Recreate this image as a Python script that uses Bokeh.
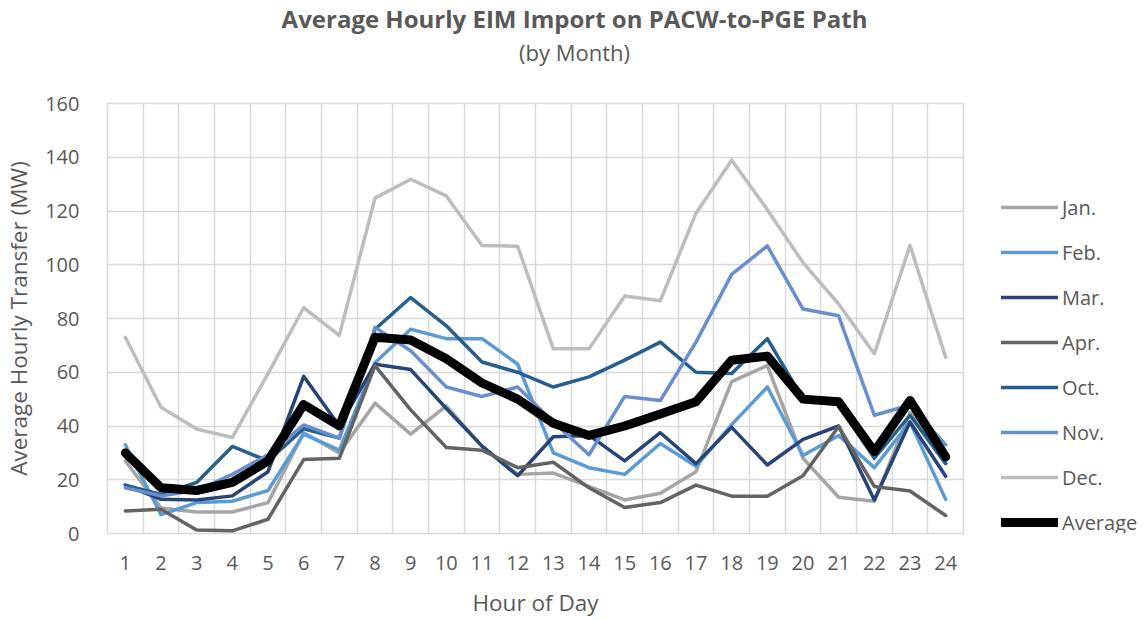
from bokeh.plotting import figure
from bokeh.models import Range1d, FixedTicker, Legend, LegendItem, Label
from bokeh.layouts import column, row
from bokeh.embed import file_html
from bokeh.resources import INLINE

hours = list(range(1, 25))
hour_labels = [str(h) for h in hours]

jan = [27, 9.5, 8, 8, 11.5, 37.5, 30, 48.5, 37, 47.5, 32.5, 22, 22.5, 17.5, 12.5, 15, 23, 56.5, 62.5, 28, 13.5, 12, 45, 29]
feb = [33, 7, 11.5, 12, 16, 37, 31, 63.5, 76, 72.5, 72.5, 63, 30, 24.5, 22, 33.5, 25, 40.5, 54.5, 29, 36.5, 24.5, 41.5, 12.7]
mar = [18, 12.7, 12.5, 14, 23, 58.5, 40, 63, 61, 46.5, 32.5, 21.5, 36, 36.5, 27, 37.5, 26, 39.5, 25.5, 35, 40, 12.5, 41.5, 21.3]
apr = [8.4, 9, 1.3, 1, 5.3, 27.5, 28, 62.5, 46, 32, 31, 24.5, 26.5, 17, 9.7, 11.5, 18, 13.9, 13.9, 21.5, 39.8, 17.5, 15.8, 6.7]
oct_ = [18, 14.5, 19, 32.4, 27, 39, 35.5, 76, 87.8, 77.3, 63.8, 60, 54.5, 58.3, 64.5, 71.2, 60, 59.5, 72.5, 50, 48, 28, 44, 26]
nov = [17, 14, 16, 22, 29.3, 40.4, 35.5, 76.7, 68, 54.5, 51, 54.5, 41.5, 29.3, 51, 49.5, 71.2, 96.4, 107, 83.5, 81, 44, 47.8, 33]
dec = [73, 47, 38.9, 35.7, 59.5, 84, 73.7, 124.8, 131.8, 125.6, 107.2, 106.9, 68.7, 68.7, 88.4, 86.6, 119.2, 138.9, 120.5, 100.8, 85.4, 66.9, 107.2, 65.6]
avg = [30, 17, 16, 19, 27, 48, 40, 73, 72, 65, 56, 50, 41, 36.5, 40, 44.5, 49, 64.5, 66, 50, 49, 30.5, 49.5, 28.5]

series_names = ["Jan.", "Feb.", "Mar.", "Apr.", "Oct.", "Nov.", "Dec.", "Average"]
series_values = [jan, feb, mar, apr, oct_, nov, dec, avg]
series_colors = ["#A5A5A5", "#5B9BD5", "#264478", "#636363", "#255E91", "#698ED0", "#BDBDBD", "#000000"]
series_widths = [3.5, 3.5, 3.5, 3.5, 3.5, 3.5, 3.5, 9]

y_ticks = list(range(0, 161, 20))

title_text = "Average Hourly EIM Import on PACW-to-PGE Path"
subtitle_text = "(by Month)"

FONT = "Open Sans"
TXT = "#595959"
GRID = "#D9D9D9"

# ---- layout geometry (pixels) ----
TOTAL_W, TOTAL_H = 1146, 620
TOP_H = 70                      # title strip
MAIN_W = 965                    # chart part; legend strip takes the rest
LEG_W = TOTAL_W - MAIN_W
BODY_H = TOTAL_H - TOP_H
BL, BR, BT, BB = 103, 2, 103 - TOP_H, 84

# ---- title strip ----
top = figure(width=TOTAL_W, height=TOP_H, x_range=Range1d(0, TOTAL_W), y_range=Range1d(TOP_H, 0),
             output_backend="svg", toolbar_location=None, min_border=0, title=None,
             x_axis_location=None, y_axis_location=None)
top.grid.visible = False
top.outline_line_color = None
top.add_layout(Label(x=574, y=18, text=title_text, text_align="center", text_baseline="middle",
                     text_font=FONT, text_font_style="bold", text_font_size="24px", text_color=TXT))
top.add_layout(Label(x=574, y=51, text=subtitle_text, text_align="center", text_baseline="middle",
                     text_font=FONT, text_font_size="22px", text_color=TXT))

# ---- main chart ----
p = figure(width=MAIN_W, height=BODY_H, x_range=Range1d(0.5, 24.5), y_range=Range1d(0, 160),
           output_backend="svg", toolbar_location=None, title=None,
           min_border_left=BL, min_border_right=BR, min_border_top=BT, min_border_bottom=BB)
p.background_fill_color = "white"
p.border_fill_color = "white"
p.outline_line_color = GRID
p.outline_line_width = 1.5

p.xaxis.ticker = FixedTicker(ticks=hours)
p.xaxis.major_label_overrides = {h: s for h, s in zip(hours, hour_labels)}
p.yaxis.ticker = FixedTicker(ticks=y_ticks)
p.xgrid.ticker = FixedTicker(ticks=[h + 0.5 for h in range(0, 25)])
p.ygrid.ticker = FixedTicker(ticks=y_ticks)
for g in (p.xgrid, p.ygrid):
    g.grid_line_color = GRID
    g.grid_line_width = 1.5

for ax in (p.xaxis, p.yaxis):
    ax.axis_line_color = None
    ax.major_tick_line_color = None
    ax.minor_tick_line_color = None
    ax.major_label_text_font = FONT
    ax.major_label_text_font_size = "20px"
    ax.major_label_text_color = TXT
    ax.axis_label_text_font = FONT
    ax.axis_label_text_font_size = "22.5px"
    ax.axis_label_text_color = TXT
    ax.axis_label_text_font_style = "normal"

p.xaxis.axis_label = "Hour of Day"
p.yaxis.axis_label = "Average Hourly Transfer (MW)"
p.xaxis.major_label_standoff = 16
p.xaxis.axis_label_standoff = 14
p.yaxis.major_label_standoff = 22
p.yaxis.axis_label_standoff = 8

for vals, col, lw in zip(series_values, series_colors, series_widths):
    p.line(hours, vals, line_color=col, line_width=lw, line_join="round", line_cap="round")

# ---- legend strip (series re-drawn out of view so the legend can sample their style) ----
leg = figure(width=LEG_W, height=BODY_H, x_range=Range1d(-2, -1), y_range=Range1d(-2, -1),
             output_backend="svg", toolbar_location=None, min_border=0, title=None,
             x_axis_location=None, y_axis_location=None)
leg.grid.visible = False
leg.outline_line_color = None
items = []
for name, vals, col, lw in zip(series_names, series_values, series_colors, series_widths):
    r = leg.line(hours, vals, line_color=col, line_width=lw, line_cap="round")
    items.append(LegendItem(label=name, renderers=[r]))
legend = Legend(items=items, location=(36, -3), glyph_width=57, glyph_height=28,
                label_height=28, spacing=17, padding=0, margin=0, label_standoff=4,
                border_line_color=None, background_fill_alpha=0,
                label_text_font=FONT, label_text_font_size="20px", label_text_color=TXT)
leg.add_layout(legend)

layout = column(top, row(p, leg, spacing=0), spacing=0)
open("out.html", "w").write(file_html(layout, INLINE))
